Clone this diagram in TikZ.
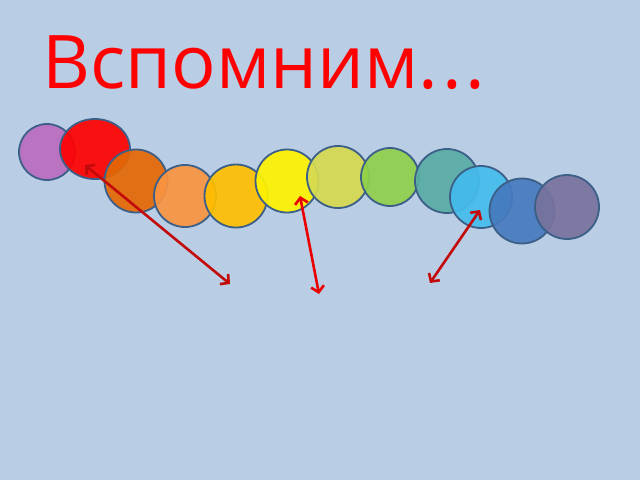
\documentclass[tikz,border=0pt]{standalone}
\usepackage{fontspec}
\setmainfont{Open Sans}
\usetikzlibrary{arrows.meta,shapes.geometric}

\definecolor{slide}{RGB}{185,205,229}
\definecolor{beadline}{RGB}{60,95,135}
\definecolor{darkred}{RGB}{195,10,10}

\begin{document}
\begin{tikzpicture}[x=1pt,y=-1pt,
    bead/.style={circle, draw=beadline, line width=1.8pt, fill opacity=0.92, inner sep=0pt},
    arr/.style={line width=2.6pt, {Straight Barb[length=6pt,width=13pt]}-{Straight Barb[length=6pt,width=13pt]}}]
    \fill[slide] (0,0) rectangle (640,480);
    \useasboundingbox (0,0) rectangle (640,480);

    \node (title) at (42,88) [anchor=base west, inner sep=0pt, text=red, font=\fontsize{74}{84}\selectfont] {Вспомним.\kern4pt.\kern4pt.};

    \node[bead, fill={rgb,255:red,185;green,108;blue,190}, minimum size=56pt] (violet) at (47,152) {};
    \node[bead, ellipse, fill=red, minimum width=70pt, minimum height=60pt] (red) at (95,149) {};
    \node[bead, fill={rgb,255:red,228;green,104;blue,5}, minimum size=63pt] (orange) at (136,181) {};
    \node[bead, fill={rgb,255:red,250;green,148;blue,65}, minimum size=62pt] (apricot) at (185,196) {};
    \node[bead, fill={rgb,255:red,255;green,190;blue,0}, minimum size=63pt] (gold) at (236,196) {};
    \node[bead, fill=yellow, minimum size=63pt] (yellow) at (287,181) {};
    \node[bead, fill={rgb,255:red,214;green,218;blue,80}, minimum size=62pt] (olive) at (338,177) {};
    \node[bead, fill={rgb,255:red,144;green,208;blue,74}, minimum size=58pt] (green) at (390,177) {};
    \node[bead, fill={rgb,255:red,88;green,172;blue,164}, minimum size=64pt] (teal) at (447,181) {};
    \node[bead, fill={rgb,255:red,68;green,188;blue,236}, minimum size=62pt] (sky) at (481,197) {};
    \node[bead, fill={rgb,255:red,70;green,122;blue,190}, minimum size=65pt] (blue) at (522,211) {};
    \node[bead, fill={rgb,255:red,120;green,114;blue,158}, minimum size=64pt] (mauve) at (567,207) {};

    \coordinate (a1) at (85,165);
    \coordinate (b1) at (230,284);
    \coordinate (a2) at (300,196);
    \coordinate (b2) at (319,294);
    \coordinate (a3) at (480,210);
    \coordinate (b3) at (430,283);

    \draw[arr, darkred] (a1) -- (b1);
    \draw[arr, red!92!black] (a2) -- (b2);
    \draw[arr, darkred] (a3) -- (b3);
\end{tikzpicture}
\end{document}
